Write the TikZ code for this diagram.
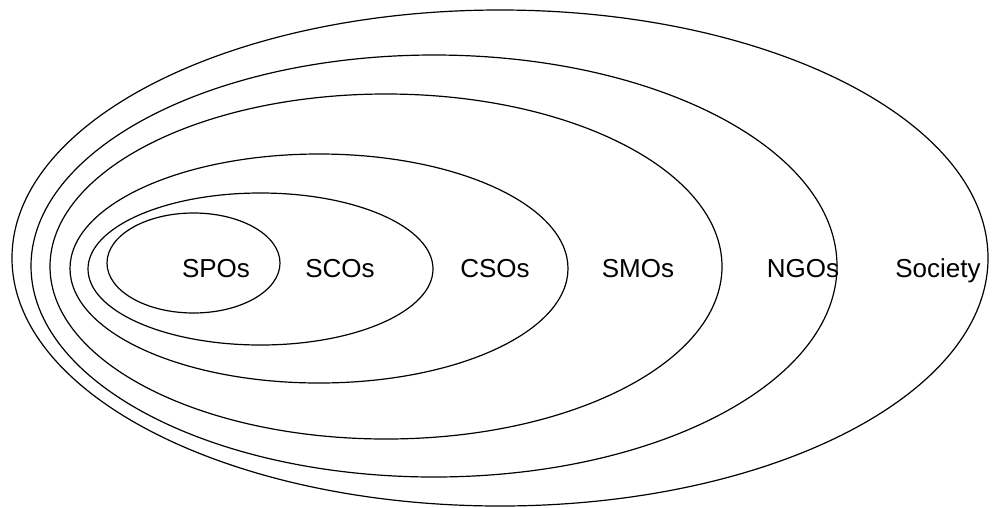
\documentclass[tikz,border=0pt]{standalone}
\usepackage{fontspec}
\setmainfont{Liberation Sans}
\usetikzlibrary{shapes.geometric}
\begin{document}
\begin{tikzpicture}[x=1pt,y=-1pt,
  ring/.style={draw=black, line width=1.2pt, ellipse, inner sep=0pt, outer sep=0pt, fill=none},
  lbl/.style={anchor=base, inner sep=0pt, font=\fontsize{26}{30}\selectfont}]
\useasboundingbox (0,0) rectangle (992,507);
\node[ring, minimum width=976pt, minimum height=496pt] (society) at (500,258) {};
\node[ring, minimum width=806pt, minimum height=422pt] (ngos) at (434,266) {};
\node[ring, minimum width=672pt, minimum height=345pt] (smos) at (386,266.5) {};
\node[ring, minimum width=498pt, minimum height=229pt] (csos) at (319,268.5) {};
\node[ring, minimum width=345pt, minimum height=152pt] (scos) at (260.5,269) {};
\node[ring, minimum width=173pt, minimum height=100pt] (spos) at (193.5,263) {};
\node[lbl] (tspo) at (216,277) {SPOs};
\node[lbl] (tsco) at (340,277) {SCOs};
\node[lbl] (tcso) at (495,277) {CSOs};
\node[lbl] (tsmo) at (638,277) {SMOs};
\node[lbl] (tngo) at (803,277) {NGOs};
\node[lbl] (tsoc) at (938,277) {Society};
\end{tikzpicture}
\end{document}
